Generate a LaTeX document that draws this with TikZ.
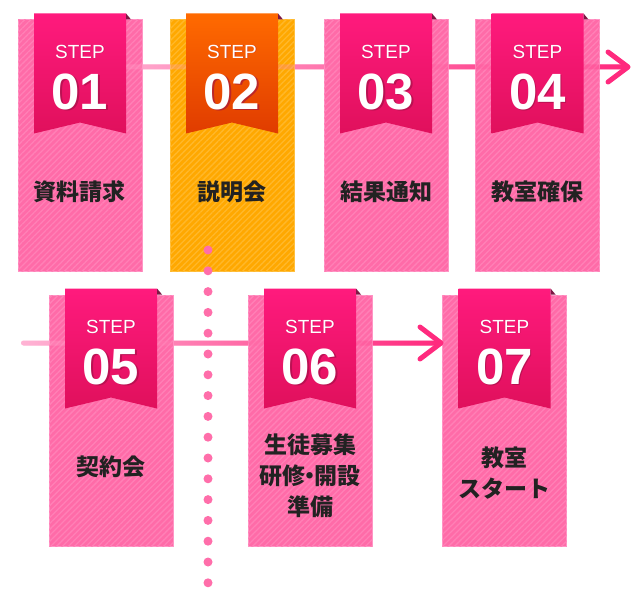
\documentclass[tikz,border=0pt]{standalone}
\usepackage{fontspec}
\setmainfont{Liberation Sans}
\newfontfamily\jpfont{Noto Sans CJK JP}
\usetikzlibrary{positioning, calc, patterns.meta}

\definecolor{cardpink}{HTML}{FF6BA8}
\definecolor{cardedge}{HTML}{FF96C6}
\definecolor{stripepink}{HTML}{FF80B6}
\definecolor{cardorange}{HTML}{FFA800}
\definecolor{orangeedge}{HTML}{FFC040}
\definecolor{stripeorange}{HTML}{FFB82A}
\definecolor{pinktop}{HTML}{FF1A7D}
\definecolor{pinkbot}{HTML}{E0105C}
\definecolor{orangetop}{HTML}{FF6A00}
\definecolor{orangebot}{HTML}{E03C00}
\definecolor{foldink}{HTML}{7E1845}
\definecolor{shadowink}{HTML}{9C0F45}
\definecolor{labelink}{HTML}{222222}
\definecolor{lineL}{HTML}{FFB3D4}
\definecolor{lineR}{HTML}{FF2A7E}
\definecolor{dotink}{HTML}{FF6EAA}

\tikzset{
  card/.style={line width=1pt, minimum width=124pt,
    minimum height=251pt, inner sep=0pt},
  stripes/.style={postaction={pattern={Lines[angle=45, distance=4.2pt, line width=1.3pt]},
    pattern color=#1}},
  pinkcard/.style={card, draw=cardedge, fill=cardpink, stripes=stripepink},
  orangecard/.style={card, draw=orangeedge, fill=cardorange, stripes=stripeorange},
  steptext/.style={text=white, font=\fontsize{19}{19}\selectfont},
  numtext/.style={text=white, font=\bfseries\fontsize{51}{51}\selectfont},
  numshadow/.style={numtext, text=shadowink, opacity=0.6},
  jplabel/.style={text=labelink, align=center,
    font=\jpfont\bfseries\fontsize{23}{31}\selectfont},
  flowline/.style={left color=lineL, right color=lineR, rounded corners=2.5pt},
  head/.style={line width=5pt, line cap=round, line join=round, draw=lineR},
  dot/.style={circle, fill=dotink, minimum size=9pt, inner sep=0pt},
  pics/ribbon/.style 2 args={code={
    \shade[top color=#1top, bottom color=#1bot]
      (-46,-6) -- (46,-6) -- (46,114) -- (0,103) -- (-46,114) -- cycle;
    \fill[foldink] (46,-6) -- (51,0) -- (46,0) -- cycle;
    \node[steptext, text=shadowink, opacity=0.4] at (0.8,32.8) {STEP};
    \node[steptext] (-step) at (0,32) {STEP};
    \node[numshadow] at (1.5,73.5) {#2};
    \node[numtext] (-num) at (0,72) {#2};
  }}
}

\begin{document}
\begin{tikzpicture}[x=1pt, y=-1pt]
  \useasboundingbox (0,0) rectangle (640,591);

  % flow lines
  \coordinate (a1) at (80,67);
  \coordinate (b1) at (628,67);
  \coordinate (a2) at (21,343);
  \coordinate (b2) at (441,343);
  \shade[flowline] ($(a1)+(0,-2.5)$) rectangle ($(b1)+(-2,2.5)$);
  \shade[flowline] ($(a2)+(0,-2.5)$) rectangle ($(b2)+(-2,2.5)$);

  % cards
  \node[pinkcard] (card1) at (80,145.5) {};
  \node[orangecard] (card2) at (232,145.5) {};
  \node[pinkcard] (card3) at (386,145.5) {};
  \node[pinkcard] (card4) at (537.5,145.5) {};
  \node[pinkcard] (card5) at (111,420.5) {};
  \node[pinkcard] (card6) at (310,420.5) {};
  \node[pinkcard] (card7) at (504.5,420.5) {};

  % the lines show faintly through the cards
  \shade[flowline, opacity=0.3] ($(a1)+(0,-2.5)$) rectangle ($(b1)+(-2,2.5)$);
  \shade[flowline, opacity=0.3] ($(a2)+(0,-2.5)$) rectangle ($(b2)+(-2,2.5)$);

  \draw[head] ($(b1)+(-20,-15)$) -- (b1) -- ($(b1)+(-20,15)$);
  \draw[head] ($(b2)+(-21,-16)$) -- (b2) -- ($(b2)+(-21,16)$);

  % ribbons
  \pic (r1) at (card1.north) {ribbon={pink}{01}};
  \pic (r2) at (card2.north) {ribbon={orange}{02}};
  \pic (r3) at (card3.north) {ribbon={pink}{03}};
  \pic (r4) at (card4.north) {ribbon={pink}{04}};
  \pic (r5) at (card5.north) {ribbon={pink}{05}};
  \pic (r6) at (card6.north) {ribbon={pink}{06}};
  \pic (r7) at (card7.north) {ribbon={pink}{07}};

  % labels
  \node[jplabel] (l1) at (80,192) {資料請求};
  \node[jplabel] (l2) at (232,192) {説明会};
  \node[jplabel] (l3) at (386,192) {結果通知};
  \node[jplabel] (l4) at (537.5,192) {教室確保};
  \node[jplabel] (l5) at (111,467) {契約会};
  \node[jplabel] (l6) at (310,476) {生徒募集\\研修{\kern-0.3em}・{\kern-0.3em}開設\\準備};
  \node[jplabel] (l7) at (504.5,473) {教室\\スタート};

  % dotted divider
  \foreach \k in {0,...,16}
    \node[dot] (dot\k) at (208,250+20.8*\k) {};
\end{tikzpicture}
\end{document}
